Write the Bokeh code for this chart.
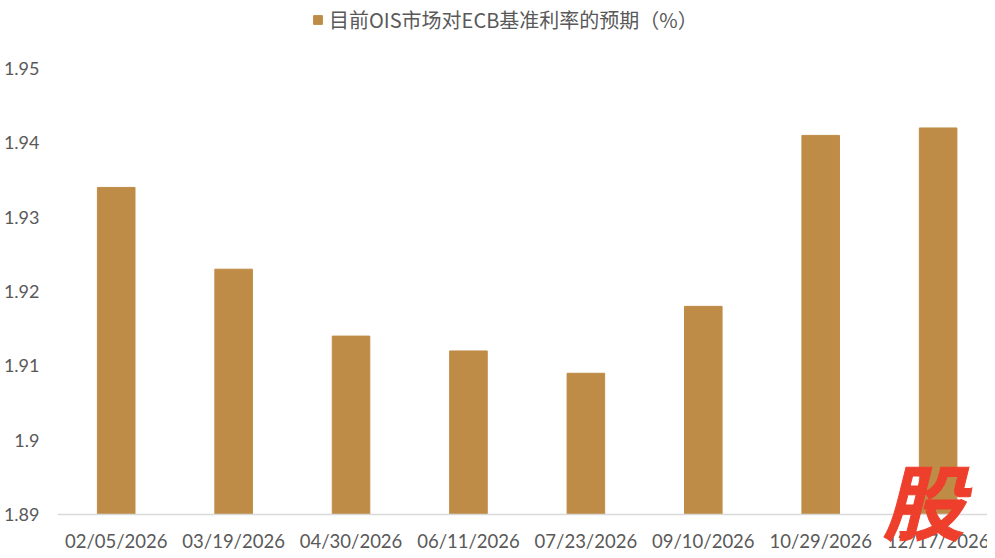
from bokeh.plotting import figure
from bokeh.models import Range1d, FixedTicker, Legend, LegendItem, Label, Span
from bokeh.embed import file_html
from bokeh.resources import INLINE

dates = ["02/05/2026", "03/19/2026", "04/30/2026", "06/11/2026",
         "07/23/2026", "09/10/2026", "10/29/2026", "12/17/2026"]
rates = [1.934, 1.923, 1.914, 1.912, 1.909, 1.918, 1.941, 1.942]
y_ticks = [1.89, 1.9, 1.91, 1.92, 1.93, 1.94, 1.95]
y_tick_labels = ["1.89", "1.9", "1.91", "1.92", "1.93", "1.94", "1.95"]
series_name = "目前OIS市场对ECB基准利率的预期（%）"
watermark = "股"

BAR = "#BE8C46"
TXT = "#595959"

xs = list(range(len(dates)))

# layout geometry (pixels)
W, H = 987, 550
LEFT = 50
TOP_PAD = 68      # space above 1.95
BOT_PAD = 36      # space below 1.89 (x labels, watermark)
plot_px = H - TOP_PAD - BOT_PAD
y0, y1 = y_ticks[0], y_ticks[-1]
per_px = (y1 - y0) / plot_px
cat_px = 118.3
x_end = -0.5 + (W - LEFT) / cat_px

p = figure(width=W, height=H, output_backend="svg", toolbar_location=None,
           x_range=Range1d(-0.5, x_end),
           y_range=Range1d(y0 - BOT_PAD * per_px, y1 + TOP_PAD * per_px),
           x_axis_location=None,
           min_border_left=LEFT, min_border_right=0, min_border_top=0,
           min_border_bottom=0)
p.outline_line_color = None
p.grid.visible = False
p.background_fill_color = "white"

r = p.vbar(x=xs, top=rates, bottom=y0, width=0.32, fill_color=BAR,
           line_color=BAR)

# category axis line and labels
p.add_layout(Span(location=y0, dimension="width", line_color="#D9D9D9",
                  line_width=1.5))
p.text(x=xs, y=[y0] * len(xs), text=dates, y_offset=26,
       text_align="center", text_baseline="middle", text_color=TXT,
       text_font={"value": "Lato"}, text_font_size="18.5px")

p.yaxis.ticker = FixedTicker(ticks=y_ticks)
p.yaxis.major_label_overrides = {v: l for v, l in zip(y_ticks, y_tick_labels)}
p.yaxis.axis_line_color = None
p.yaxis.major_tick_line_color = None
p.yaxis.minor_tick_line_color = None
p.yaxis.major_label_text_color = TXT
p.yaxis.major_label_text_font = "Lato"
p.yaxis.major_label_text_font_size = "18px"
p.yaxis.major_label_standoff = 12

legend = Legend(items=[LegendItem(label=series_name, renderers=[r])],
                location=(255, H - 34), orientation="horizontal",
                glyph_width=11, glyph_height=11, label_standoff=6,
                padding=0, margin=0, border_line_color=None,
                background_fill_alpha=0,
                label_text_font="Noto Sans CJK SC",
                label_text_font_size="20px", label_text_color=TXT)
p.add_layout(legend)

wm = Label(x=866, y=52, x_units="screen", y_units="screen", text=watermark,
           text_font="Noto Sans CJK SC", text_font_style="bold italic",
           text_font_size="82px", text_color="#EE3F2C",
           text_outline_color="#EE3F2C",
           text_align="center", text_baseline="middle")
p.add_layout(wm)

open("out.html", "w").write(file_html(p, INLINE))
